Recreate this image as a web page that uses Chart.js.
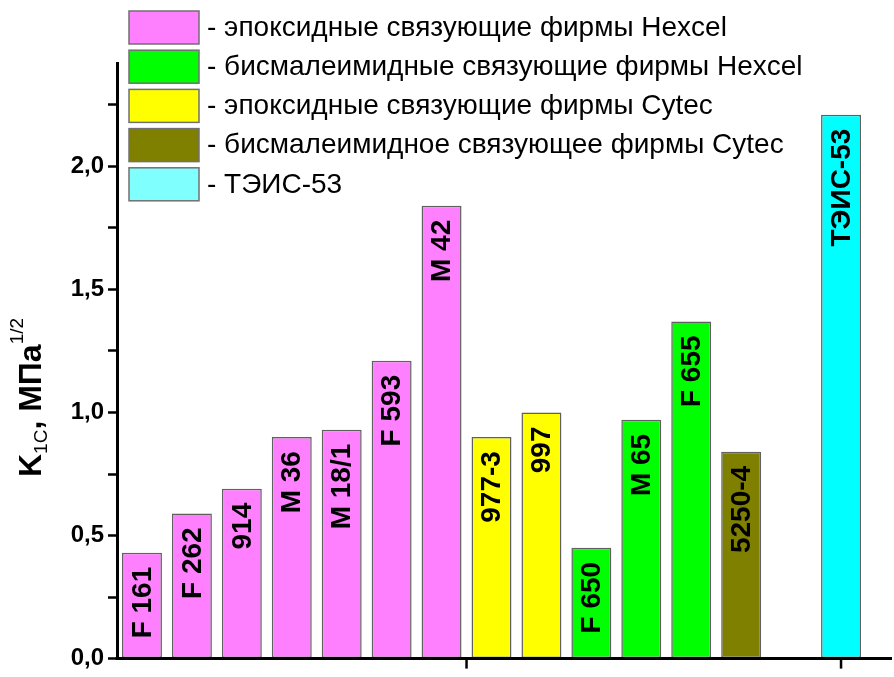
<!DOCTYPE html>
<html>
<head>
<meta charset="utf-8">
<script src="https://cdn.jsdelivr.net/npm/chart.js@4"></script>
<style>
    html, body { margin: 0; padding: 0; background: #fff; }
    #wrap { width: 894px; height: 677px; }
</style>
</head>
<body>
<div id="wrap"><canvas id="kicChart"></canvas></div>
<script>
// K1C of binders, one slot left empty before TEIS-53
const categories = ['F 161', 'F 262', '914', 'M 36', 'M 18/1', 'F 593', 'M 42', '977-3', '997', 'F 650', 'M 65', 'F 655', '5250-4', '', 'ТЭИС-53'];

const epoxyHexcel = [0.43, 0.59, 0.69, 0.90, 0.93, 1.21, 1.84, null, null, null, null, null, null, null, null];
const bmiHexcel   = [null, null, null, null, null, null, null, null, null, 0.45, 0.97, 1.37, null, null, null];
const epoxyCytec  = [null, null, null, null, null, null, null, 0.90, 1.00, null, null, null, null, null, null];
const bmiCytec    = [null, null, null, null, null, null, null, null, null, null, null, null, 0.84, null, null];
const teis53      = [null, null, null, null, null, null, null, null, null, null, null, null, null, null, 2.21];

const seriesNames = [
    'эпоксидные связующие фирмы Hexcel',
    'бисмалеимидные связующие фирмы Hexcel',
    'эпоксидные связующие фирмы Cytec',
    'бисмалеимидное связующее фирмы Cytec',
    'ТЭИС-53'
];

const yMajorTicks = [0, 0.5, 1.0, 1.5, 2.0];

const barColors    = ['#ff80ff', '#00ff00', '#ffff00', '#808000', '#00ffff'];
const legendColors = ['#ff80ff', '#00ff00', '#ffff00', '#808000', '#80ffff'];
const FONT = '"Liberation Sans", Arial, sans-serif';

const allSeries = [epoxyHexcel, bmiHexcel, epoxyCytec, bmiCytec, teis53];

const datasets = allSeries.map(function (values, i) {
    return {
        label: seriesNames[i],
        data: values,
        backgroundColor: barColors[i],
        borderColor: '#606060',
        borderWidth: 1.5,
        borderSkipped: false,
        barPercentage: 0.8,
        categoryPercentage: 1.0,
        grouped: false
    };
});

// names written upward inside each bar, under its top
const barNamesPlugin = {
    id: 'barNames',
    afterDatasetsDraw: function (chart) {
        const ctx = chart.ctx;
        ctx.save();
        ctx.fillStyle = '#000';
        ctx.font = 'bold 28px ' + FONT;
        ctx.textAlign = 'right';
        ctx.textBaseline = 'middle';
        chart.data.datasets.forEach(function (ds, di) {
            chart.getDatasetMeta(di).data.forEach(function (bar, idx) {
                if (ds.data[idx] == null) return;
                ctx.save();
                ctx.translate(bar.x + 1, bar.y + 14);
                ctx.rotate(-Math.PI / 2);
                ctx.fillText(categories[idx], 0, 0);
                ctx.restore();
            });
        });
        ctx.restore();
    }
};

// bottom axis line running to the edge, two ticks, legend, y title
const decorPlugin = {
    id: 'decor',
    afterDraw: function (chart) {
        const ctx = chart.ctx;
        const area = chart.chartArea;
        const x = chart.scales.x;
        ctx.save();

        ctx.strokeStyle = '#000';
        ctx.lineWidth = 3;
        ctx.beginPath();
        ctx.moveTo(area.left - 1.5, area.bottom);
        ctx.lineTo(chart.width - 2, area.bottom);
        ctx.stroke();
        ctx.lineWidth = 2.5;
        [6.5, 14].forEach(function (v) {
            const px = x.getPixelForValue(v);
            ctx.beginPath();
            ctx.moveTo(px, area.bottom);
            ctx.lineTo(px, area.bottom + 10);
            ctx.stroke();
        });

        // legend
        chart.data.datasets.forEach(function (ds, i) {
            const top = 11 + i * 39.2;
            ctx.fillStyle = legendColors[i];
            ctx.fillRect(129, top, 70, 33);
            ctx.strokeStyle = '#707070';
            ctx.lineWidth = 1.5;
            ctx.strokeRect(129, top, 70, 33);
            ctx.fillStyle = '#000';
            ctx.font = '28px ' + FONT;
            ctx.textAlign = 'left';
            ctx.textBaseline = 'middle';
            ctx.fillText('- ' + ds.label, 207, top + 17);
        });

        // y title: K_1C, МПа^1/2
        ctx.translate(41, 477);
        ctx.rotate(-Math.PI / 2);
        ctx.textAlign = 'left';
        ctx.textBaseline = 'alphabetic';
        let cx = 0;
        const part = function (text, font, dy) {
            ctx.font = font;
            ctx.fillText(text, cx, dy);
            cx += ctx.measureText(text).width;
        };
        part('K', 'bold 32px ' + FONT, 0);
        part('1C', '19px ' + FONT, 6);
        part(', МПа', 'bold 32px ' + FONT, 0);
        part('1/2', '19px ' + FONT, -18);
        ctx.restore();
    }
};

new Chart(document.getElementById('kicChart'), {
    type: 'bar',
    data: { labels: categories, datasets: datasets },
    plugins: [barNamesPlugin, decorPlugin],
    options: {
        responsive: true,
        maintainAspectRatio: false,
        animation: false,
        layout: { padding: { top: 63, right: 28, bottom: 0, left: 0 } },
        plugins: {
            legend: { display: false },
            tooltip: { enabled: false }
        },
        scales: {
            x: {
                grid: { display: false },
                ticks: { display: false },
                border: { display: false },
                afterFit: function (s) { s.height = 17; }
            },
            y: {
                min: 0,
                max: 2.42,
                afterFit: function (s) { s.width = 117; },
                afterBuildTicks: function (s) {
                    s.ticks = s.ticks.filter(function (t) { return t.value <= 2.26; });
                },
                ticks: {
                    stepSize: 0.25,
                    color: '#000',
                    padding: 4,
                    font: { family: FONT, size: 24, weight: 'bold' },
                    callback: function (v) {
                        return yMajorTicks.indexOf(v) >= 0 ? v.toFixed(1).replace('.', ',') : '';
                    }
                },
                grid: {
                    drawOnChartArea: false,
                    tickLength: 9,
                    tickWidth: 2.5,
                    tickColor: '#000'
                },
                border: { color: '#000', width: 3 }
            }
        }
    }
});
</script>
</body>
</html>
